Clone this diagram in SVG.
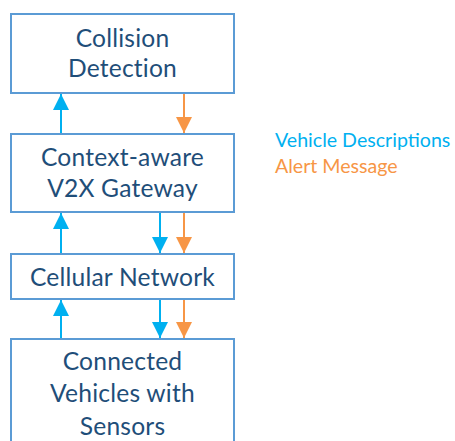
<svg xmlns="http://www.w3.org/2000/svg" width="455" height="441" viewBox="0 0 455 441">
  <style>
    .box { fill: #ffffff; stroke: #5b9bd5; stroke-width: 2; }
    .label { font-family: Lato, "Open Sans", sans-serif; font-size: 24.6px; fill: #1f4e79; text-anchor: middle; letter-spacing: 0.2px; }
    .legend { font-family: Lato, "Open Sans", sans-serif; font-size: 19.6px; }
    .blue { stroke: #00b0f0; stroke-width: 2; fill: none; }
    .orange { stroke: #f79646; stroke-width: 2; fill: none; }
  </style>
  <defs>
    <marker id="headBlue" markerUnits="userSpaceOnUse" markerWidth="16" markerHeight="16" viewBox="0 0 16 16" refX="16" refY="8" orient="auto">
      <path d="M0,0 L16,8 L0,16 Z" fill="#00b0f0"/>
    </marker>
    <marker id="headOrange" markerUnits="userSpaceOnUse" markerWidth="16" markerHeight="16" viewBox="0 0 16 16" refX="16" refY="8" orient="auto">
      <path d="M0,0 L16,8 L0,16 Z" fill="#f79646"/>
    </marker>
  </defs>

  <rect width="455" height="441" fill="#ffffff"/>

  <g id="collision-detection">
    <rect class="box" x="11" y="14" width="223" height="79"/>
    <text class="label" x="122.5" y="47">Collision</text>
    <text class="label" x="122.5" y="77">Detection</text>
  </g>

  <g id="v2x-gateway">
    <rect class="box" x="11" y="134" width="223" height="78"/>
    <text class="label" x="122.5" y="166">Context-aware</text>
    <text class="label" x="122.5" y="197">V2X Gateway</text>
  </g>

  <g id="cellular-network">
    <rect class="box" x="11" y="254" width="223" height="45"/>
    <text class="label" x="122.5" y="286">Cellular Network</text>
  </g>

  <g id="connected-vehicles">
    <rect class="box" x="11" y="339" width="223" height="112"/>
    <text class="label" x="122.5" y="370">Connected</text>
    <text class="label" x="122.5" y="402">Vehicles with</text>
    <text class="label" x="122.5" y="435">Sensors</text>
  </g>

  <g id="connectors">
    <line class="blue" x1="61" y1="133" x2="61" y2="94" marker-end="url(#headBlue)"/>
    <line class="orange" x1="184" y1="94" x2="184" y2="133" marker-end="url(#headOrange)"/>

    <line class="blue" x1="61" y1="253" x2="61" y2="213" marker-end="url(#headBlue)"/>
    <line class="blue" x1="160" y1="213" x2="160" y2="253" marker-end="url(#headBlue)"/>
    <line class="orange" x1="184" y1="213" x2="184" y2="253" marker-end="url(#headOrange)"/>

    <line class="blue" x1="61" y1="338" x2="61" y2="300" marker-end="url(#headBlue)"/>
    <line class="blue" x1="160" y1="300" x2="160" y2="338" marker-end="url(#headBlue)"/>
    <line class="orange" x1="184" y1="300" x2="184" y2="338" marker-end="url(#headOrange)"/>
  </g>

  <g id="legend">
    <text class="legend" x="275" y="147" fill="#00b0f0">Vehicle Descriptions</text>
    <text class="legend" x="275" y="173" fill="#f79646">Alert Message</text>
  </g>
</svg>
